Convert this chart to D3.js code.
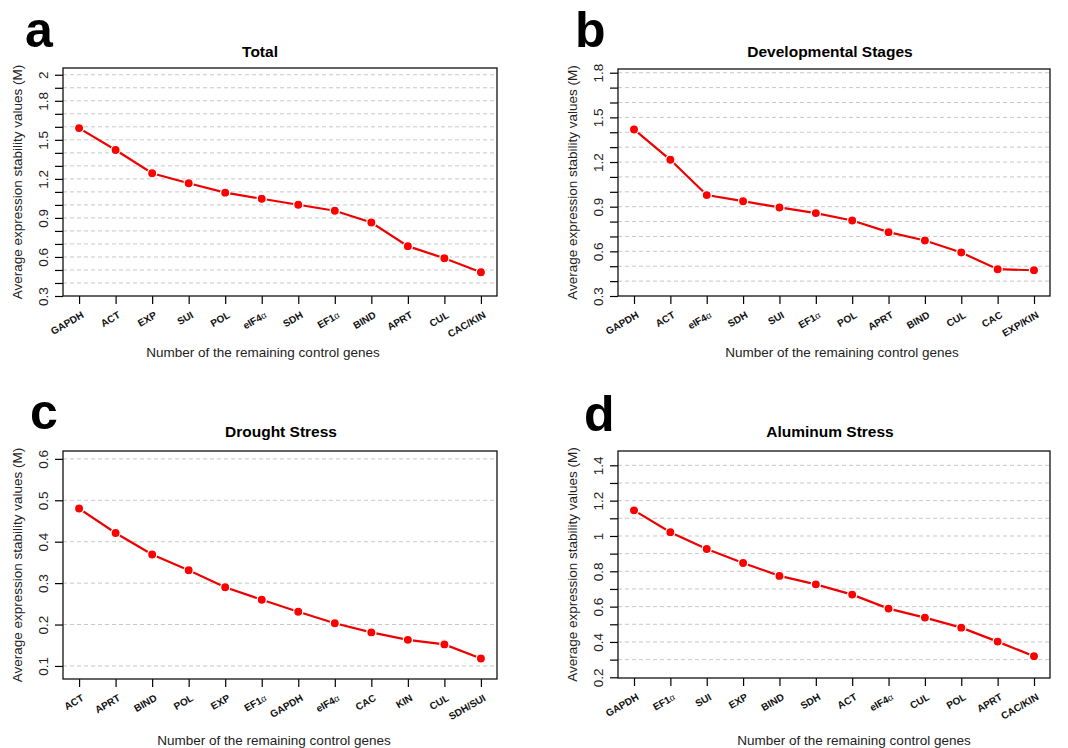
<!DOCTYPE html>
<html>
<head>
  <script src="https://d3js.org/d3.v7.min.js"></script>
  <style>
    body { margin: 0; background: #fff; }
    svg { font-family: "Liberation Sans", Arial, sans-serif; }
    .grid line { stroke: #c8c8c8; stroke-width: 1px; stroke-dasharray: 4 3; }
    .axis path { display: none; }
    .axis line { stroke: #000; stroke-width: 1.2px; }
    .y.axis text { font-size: 13.5px; fill: #222; }
    .x.axis text { font-size: 10px; font-weight: bold; fill: #111; }
  </style>
</head>
<body>
  <script>
    // panel data: gene order and average expression stability (M)
    var genesA = ["GAPDH", "ACT", "EXP", "SUI", "POL", "eIF4α", "SDH", "EF1α", "BIND", "APRT", "CUL", "CAC/KIN"];
    var valuesA = [1.590, 1.422, 1.243, 1.166, 1.094, 1.047, 1.001, 0.955, 0.865, 0.683, 0.590, 0.483];
    var ticksA = [0.3, 0.4, 0.5, 0.6, 0.7, 0.8, 0.9, 1.0, 1.1, 1.2, 1.3, 1.4, 1.5, 1.6, 1.7, 1.8, 1.9, 2.0];
    var labelsA = [0.3, 0.6, 0.9, 1.2, 1.5, 1.8, 2.0];

    var genesB = ["GAPDH", "ACT", "eIF4α", "SDH", "SUI", "EF1α", "POL", "APRT", "BIND", "CUL", "CAC", "EXP/KIN"];
    var valuesB = [1.419, 1.215, 0.978, 0.937, 0.895, 0.857, 0.807, 0.729, 0.673, 0.592, 0.480, 0.473];
    var ticksB = [0.3, 0.4, 0.5, 0.6, 0.7, 0.8, 0.9, 1.0, 1.1, 1.2, 1.3, 1.4, 1.5, 1.6, 1.7, 1.8];
    var labelsB = [0.3, 0.6, 0.9, 1.2, 1.5, 1.8];

    var genesC = ["ACT", "APRT", "BIND", "POL", "EXP", "EF1α", "GAPDH", "eIF4α", "CAC", "KIN", "CUL", "SDH/SUI"];
    var valuesC = [0.480, 0.421, 0.369, 0.331, 0.290, 0.260, 0.231, 0.203, 0.181, 0.163, 0.152, 0.118];
    var ticksC = [0.1, 0.2, 0.3, 0.4, 0.5, 0.6];
    var labelsC = [0.1, 0.2, 0.3, 0.4, 0.5, 0.6];

    var genesD = ["GAPDH", "EF1α", "SUI", "EXP", "BIND", "SDH", "ACT", "eIF4α", "CUL", "POL", "APRT", "CAC/KIN"];
    var valuesD = [1.145, 1.021, 0.926, 0.847, 0.774, 0.726, 0.668, 0.589, 0.538, 0.481, 0.402, 0.319];
    var ticksD = [0.2, 0.3, 0.4, 0.5, 0.6, 0.7, 0.8, 0.9, 1.0, 1.1, 1.2, 1.3, 1.4];
    var labelsD = [0.2, 0.4, 0.6, 0.8, 1.0, 1.2, 1.4];

    var titles = ["Total", "Developmental Stages", "Drought Stress", "Aluminum Stress"];
    var letters = ["a", "b", "c", "d"];

    // layout of each panel (pixels)
    var layout = [
      { x0: 63, x1: 497, y0: 68, y1: 296, ymin: 0.3, ymax: 2.052, lx: 25, ly: 47, tx: 260, ty: 57, ax: 263, ay: 357 },
      { x0: 618, x1: 1050, y0: 69, y1: 296, ymin: 0.3, ymax: 1.825, lx: 575, ly: 47, tx: 830, ty: 57, ax: 842, ay: 357 },
      { x0: 63, x1: 497, y0: 451, y1: 679, ymin: 0.0685, ymax: 0.619, lx: 30, ly: 429, tx: 281, ty: 437, ax: 274, ay: 745 },
      { x0: 618, x1: 1050, y0: 451, y1: 678, ymin: 0.196, ymax: 1.481, lx: 584, ly: 431, tx: 830, ty: 437, ax: 854, ay: 745 }
    ];

    var panels = [
      { genes: genesA, values: valuesA, ticks: ticksA, labels: labelsA },
      { genes: genesB, values: valuesB, ticks: ticksB, labels: labelsB },
      { genes: genesC, values: valuesC, ticks: ticksC, labels: labelsC },
      { genes: genesD, values: valuesD, ticks: ticksD, labels: labelsD }
    ];

    var width = 1068, height = 748;
    var svg = d3.select("body").append("svg")
        .attr("width", width)
        .attr("height", height);

    // write gene name with a plain (non bold) greek alpha
    function geneText(sel, name) {
      var parts = name.split("α");
      sel.text(null);
      sel.append("tspan").text(parts[0]);
      if (parts.length > 1) {
        sel.append("tspan").attr("font-weight", "normal").attr("font-size", "9px").text("α");
        if (parts[1]) sel.append("tspan").text(parts[1]);
      }
    }

    panels.forEach(function(p, i) {
      var L = layout[i];
      var g = svg.append("g");

      var x = d3.scalePoint()
          .domain(p.genes)
          .range([L.x0, L.x1])
          .padding(0.44);
      var y = d3.scaleLinear()
          .domain([L.ymin, L.ymax])
          .range([L.y1, L.y0]);

      // dashed grid
      g.append("g")
          .attr("class", "grid")
        .selectAll("line")
          .data(p.ticks.filter(function(t) { return y(t) < L.y1 - 1; }))
        .enter().append("line")
          .attr("x1", L.x0).attr("x2", L.x1)
          .attr("y1", function(d) { return y(d); })
          .attr("y2", function(d) { return y(d); });

      // y axis
      var yAxis = d3.axisLeft(y)
          .tickValues(p.ticks)
          .tickSize(8)
          .tickFormat(function(d) {
            var hit = p.labels.some(function(l) { return Math.abs(l - d) < 1e-9; });
            return hit ? d3.format("~g")(d) : "";
          });
      var ya = g.append("g")
          .attr("class", "y axis")
          .attr("transform", "translate(" + L.x0 + ",0)")
          .call(yAxis);
      ya.selectAll("text")
          .attr("text-anchor", "middle")
          .attr("dy", null)
          .attr("x", 0)
          .attr("y", 0)
          .attr("transform", "translate(-15.5,0) rotate(-90)");

      // x axis
      var xAxis = d3.axisBottom(x)
          .tickSize(8);
      var xa = g.append("g")
          .attr("class", "x axis")
          .attr("transform", "translate(0," + L.y1 + ")")
          .call(xAxis);
      xa.selectAll("text")
          .attr("text-anchor", "end")
          .attr("dy", null)
          .attr("y", 0)
          .attr("transform", "translate(5,21) rotate(-30)")
          .each(function(d) { geneText(d3.select(this), d); });

      // line and points
      var pts = p.genes.map(function(gn, k) { return { gene: gn, v: p.values[k] }; });
      g.append("path")
          .datum(pts)
          .attr("fill", "none")
          .attr("stroke", "#ee0000")
          .attr("stroke-width", 2.2)
          .attr("d", d3.line()
            .x(function(d) { return x(d.gene); })
            .y(function(d) { return y(d.v); }));
      g.selectAll(".pt")
          .data(pts)
        .enter().append("circle")
          .attr("class", "pt")
          .attr("cx", function(d) { return x(d.gene); })
          .attr("cy", function(d) { return y(d.v); })
          .attr("r", 4.6)
          .attr("fill", "#ff0000")
          .attr("stroke", "#fff")
          .attr("stroke-width", 1.3);

      // box
      g.append("rect")
          .attr("x", L.x0).attr("y", L.y0)
          .attr("width", L.x1 - L.x0).attr("height", L.y1 - L.y0)
          .attr("fill", "none")
          .attr("stroke", "#111")
          .attr("stroke-width", 1.3);

      // texts
      g.append("text")
          .attr("x", L.lx).attr("y", L.ly)
          .attr("font-size", "50px").attr("font-weight", "bold")
          .text(letters[i]);
      g.append("text")
          .attr("x", L.tx).attr("y", L.ty)
          .attr("text-anchor", "middle")
          .attr("font-size", "15.5px").attr("font-weight", "bold")
          .text(titles[i]);
      g.append("text")
          .attr("x", L.ax).attr("y", L.ay)
          .attr("text-anchor", "middle")
          .attr("font-size", "13.5px").attr("fill", "#222")
          .text("Number of the remaining control genes");
      g.append("text")
          .attr("transform", "translate(" + (L.x0 - 41) + "," + ((L.y0 + L.y1) / 2) + ") rotate(-90)")
          .attr("text-anchor", "middle")
          .attr("font-size", "13.5px").attr("fill", "#222")
          .text("Average expression stability values (M)");
    });
  </script>
</body>
</html>
